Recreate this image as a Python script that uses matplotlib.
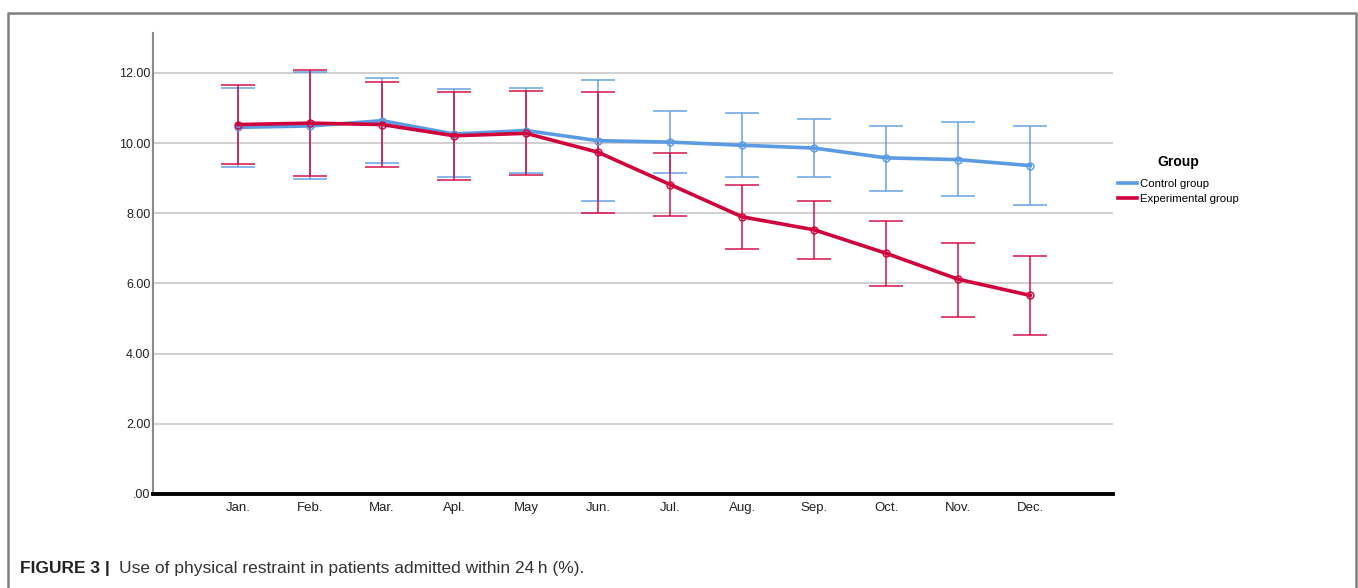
import matplotlib.pyplot as plt
from matplotlib.lines import Line2D
import numpy as np

months = ['Jan.', 'Feb.', 'Mar.', 'Apl.', 'May', 'Jun.', 'Jul.', 'Aug.', 'Sep.', 'Oct.', 'Nov.', 'Dec.']

# Control group: mean, lower and upper error bar ends
control_mean = [10.45, 10.49, 10.64, 10.26, 10.36, 10.07, 10.03, 9.94, 9.86, 9.58, 9.53, 9.36]
control_low = [9.33, 8.99, 9.44, 9.03, 9.16, 8.34, 9.14, 9.04, 9.03, 8.65, 8.48, 8.25]
control_high = [11.57, 12.02, 11.86, 11.54, 11.56, 11.79, 10.92, 10.86, 10.70, 10.49, 10.60, 10.48]

# Experimental group
exp_mean = [10.53, 10.57, 10.53, 10.21, 10.28, 9.74, 8.82, 7.90, 7.53, 6.86, 6.12, 5.66]
exp_low = [9.41, 9.06, 9.33, 8.95, 9.08, 8.02, 7.93, 6.99, 6.69, 5.94, 5.05, 4.53]
exp_high = [11.65, 12.08, 11.73, 11.46, 11.50, 11.46, 9.71, 8.82, 8.36, 7.78, 7.16, 6.78]

yticks = [0, 2, 4, 6, 8, 10, 12]
ytick_labels = ['.00', '2.00', '4.00', '6.00', '8.00', '10.00', '12.00']

blue = '#5b9be3'
red = '#d0023c'
font = ['Liberation Sans', 'DejaVu Sans']

fig = plt.figure(figsize=(13.58, 5.88), dpi=100)
ax = fig.add_axes([0.1127, 0.1599, 0.7069, 0.784])

x = np.arange(len(months))

for mean, low, high, col in [(control_mean, control_low, control_high, blue),
                             (exp_mean, exp_low, exp_high, red)]:
    mean = np.array(mean)
    err = [mean - np.array(low), np.array(high) - mean]
    ax.errorbar(x, mean, yerr=err, fmt='none', ecolor=col, elinewidth=1.2,
                capsize=12, capthick=1.2, alpha=0.85, zorder=3)
    ax.plot(x, mean, color=col, linewidth=2.6, marker='o', markersize=5,
            markerfacecolor='none', markeredgewidth=1, zorder=4)

ax.set_xlim(-1.18, 12.15)
ax.set_ylim(0, 13.14)
ax.set_xticks(x)
ax.set_xticklabels(months, fontsize=9.5, family=font, color='#222222')
ax.set_yticks(yticks)
ax.set_yticklabels(ytick_labels, fontsize=9, family=font, color='#222222')
ax.tick_params(axis='y', length=0, pad=2)
ax.tick_params(axis='x', length=0, pad=6)

ax.grid(axis='y', color='#c8c8c8', linewidth=1.2, zorder=0)
ax.set_axisbelow(True)
for s in ['top', 'right']:
    ax.spines[s].set_visible(False)
ax.spines['left'].set_color('#8c8c8c')
ax.spines['left'].set_linewidth(1.5)
ax.spines['bottom'].set_color('black')
ax.spines['bottom'].set_linewidth(2.8)
ax.spines['bottom'].set_zorder(5)

# legend, title drawn separately to get the SPSS-like gap
fig.text(1178 / 1358, 1 - 162 / 588, 'Group', fontsize=10, fontweight='bold',
         family=font, ha='center', va='center')
handles = [Line2D([0], [0], color=blue, linewidth=2.6),
           Line2D([0], [0], color=red, linewidth=2.6)]
fig.legend(handles, ['Control group', 'Experimental group'], loc='upper left',
           bbox_to_anchor=(1118 / 1358, 1 - 179 / 588), frameon=False,
           prop={'family': font, 'size': 8.2}, handlelength=1.7, handletextpad=0.2,
           labelspacing=0.42, borderpad=0, borderaxespad=0)

# outer frame of the figure panel
fig.add_artist(Line2D([8 / 1358, 8 / 1358, 1356 / 1358, 1356 / 1358],
                      [0, 1 - 13 / 588, 1 - 13 / 588, 0],
                      transform=fig.transFigure, color='#7f7f7f', linewidth=1.8))

fig.text(20 / 1358, 1 - 573 / 588, 'FIGURE 3 |', fontsize=12.5, fontweight='bold',
         family=font, va='baseline', color='#222222')
fig.text(119 / 1358, 1 - 573 / 588, 'Use of physical restraint in patients admitted within 24\u2009h (%).',
         fontsize=12.5, family=font, va='baseline', color='#333333')

fig.savefig('out.png', dpi=100)
